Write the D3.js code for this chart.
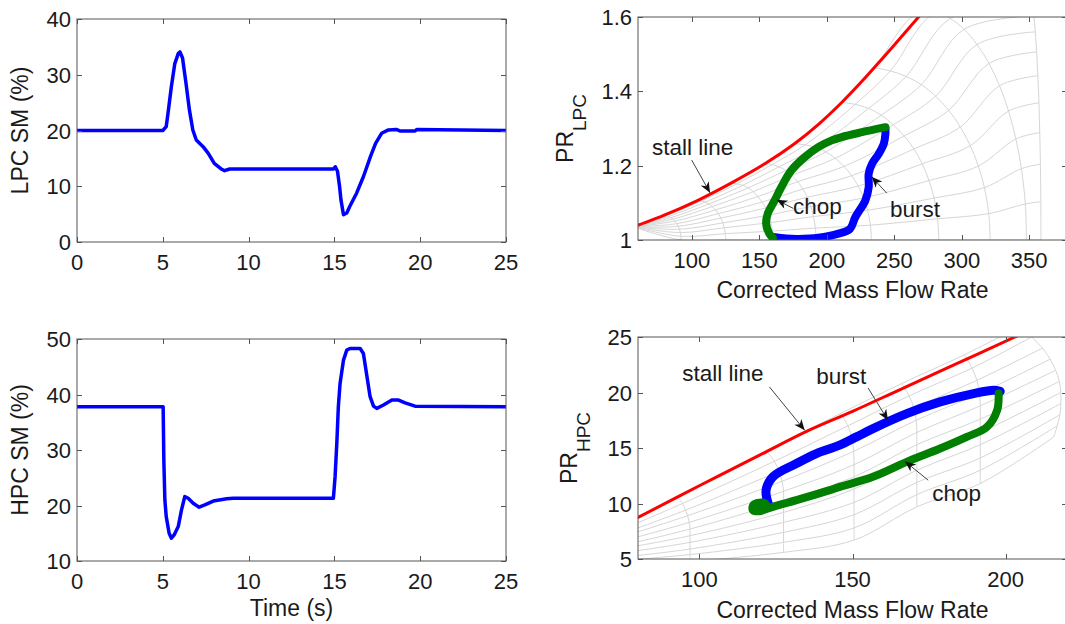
<!DOCTYPE html>
<html>
<head>
<meta charset="utf-8">
<script src="https://cdn.jsdelivr.net/npm/d3@7"></script>
<style>
  body { margin: 0; background: #fff; }
  svg { display: block; font-family: "Liberation Sans", Arial, sans-serif; }
</style>
</head>
<body>
<svg id="fig" width="1065" height="624"></svg>
<script>
// ---- time histories (surge margin, %) ----
const lpcTime = [0, 5.0, 5.2, 5.3, 5.5, 5.7, 5.9, 6.0, 6.15, 6.35, 6.55, 6.75, 6.95, 7.35, 7.65, 8.0, 8.4, 8.6, 8.9,
  14.95, 15.05, 15.18, 15.3, 15.38, 15.53, 15.72, 15.9, 16.3, 16.7, 17.1, 17.4, 17.75, 18.15, 18.6, 18.85, 19.7, 19.8, 25];
const lpcSM = [20, 20, 20.7, 23, 27.9, 32, 33.8, 34.1, 33, 28.5, 23.7, 20.1, 18.3, 17.1, 15.9, 14.1, 13.1, 12.8, 13.1,
  13.1, 13.5, 12.7, 10, 7.6, 4.9, 5.2, 6.4, 8.8, 11.8, 15.3, 17.7, 19.5, 20.1, 20.2, 19.9, 19.9, 20.2, 20];

const hpcTime = [0, 5.02, 5.06, 5.12, 5.2, 5.37, 5.5, 5.66, 5.9, 6.09, 6.28, 6.48, 6.77, 7.12, 7.45, 7.94, 8.72, 9.1,
  14.94, 14.98, 15.04, 15.14, 15.23, 15.33, 15.53, 15.72, 15.91, 16.5, 16.69, 16.9, 17.08, 17.28, 17.47, 17.86,
  18.35, 18.74, 19.12, 19.7, 25];
const hpcSM = [37.8, 37.8, 28.2, 21, 18, 15, 14.1, 14.7, 16.2, 19.2, 21.6, 21.3, 20.4, 19.7, 20.1, 20.8, 21.2, 21.3,
  21.3, 22.8, 25.2, 31.2, 37.8, 42, 46.2, 48, 48.3, 48.3, 47.4, 43.2, 39.6, 37.9, 37.5, 38.1,
  39, 39, 38.5, 37.9, 37.8];

// ---- LPC map ----
const lpcStallFlow = [55, 60, 79, 104, 129, 154, 176, 194, 211, 226, 242, 258, 272, 285];
const lpcStallPR = [1.033, 1.04, 1.066, 1.106, 1.153, 1.205, 1.259, 1.312, 1.370, 1.427, 1.492, 1.558, 1.617, 1.672];
const lpcBurstFlow = [160, 170, 178.7, 193.6, 208.6, 217.2, 221, 228.5, 231, 231, 233.5, 238.5, 242.2, 243.4, 243.4];
const lpcBurstPR = [1.008, 1.004, 1.003, 1.006, 1.017, 1.03, 1.061, 1.106, 1.142, 1.178, 1.205, 1.232, 1.259, 1.286, 1.30];
const lpcChopFlow = [243.4, 226, 211, 203.6, 193.6, 183.6, 173.6, 166.2, 161.2, 156.2, 155, 157.3, 159.9];
const lpcChopPR = [1.3035, 1.29, 1.277, 1.268, 1.25, 1.223, 1.187, 1.142, 1.106, 1.071, 1.044, 1.017, 1.006];
// speed lines, each a list of [flow, PR] nodes from the stall side to the choke side
const lpcMapHub = [57, 1.035];
const lpcSpeedLines = [
  [[79,1.066],[80.8,1.065],[82.6,1.063],[84.3,1.06],[85.9,1.056],[87.4,1.051],[88.7,1.044],[89.8,1.037],[90.7,1.029],[91.4,1.02],[91.8,1.01],[92,1.0]],
  [[104,1.106],[106.9,1.105],[109.8,1.102],[112.5,1.097],[115.1,1.09],[117.5,1.081],[119.6,1.071],[121.4,1.059],[122.9,1.046],[124,1.033],[124.7,1.017],[125,1.0]],
  [[129,1.153],[133.3,1.151],[137.6,1.147],[141.6,1.14],[145.4,1.13],[148.9,1.117],[152,1.102],[154.7,1.086],[156.9,1.067],[158.5,1.047],[159.6,1.024],[160,1.0]],
  [[154,1.205],[159.3,1.203],[164.5,1.197],[169.5,1.187],[174.1,1.174],[178.4,1.157],[182.2,1.137],[185.5,1.115],[188.2,1.09],[190.1,1.063],[191.5,1.032],[192,1.0]],
  [[176,1.259],[183.9,1.256],[191.7,1.249],[199.2,1.237],[206.2,1.22],[212.7,1.198],[218.4,1.173],[223.3,1.145],[227.2,1.113],[230.2,1.08],[232.3,1.04],[233,1.0]],
  [[211,1.370],[221,1.365],[230.9,1.354],[240.3,1.336],[249.2,1.31],[257.3,1.28],[264.5,1.245],[270.7,1.205],[275.7,1.16],[279.5,1.113],[282.1,1.057],[283,1.0]],
  [[235,1.463],[247,1.455],[258.7,1.440],[270,1.418],[280.6,1.387],[290.3,1.349],[298.9,1.304],[306.3,1.254],[312.3,1.199],[316.8,1.141],[320,1.071],[321,1.0]],
  [[270,1.62],[280.8,1.614],[291.5,1.596],[301.7,1.567],[311.3,1.526],[320.2,1.475],[328,1.415],[334.7,1.347],[340.1,1.272],[344.2,1.192],[347.1,1.097],[348,1.0]],
  [[349.7,1.66],[351,1.653],[352.2,1.634],[353.4,1.603],[354.5,1.56],[355.5,1.506],[356.4,1.442],[357.2,1.369],[357.8,1.289],[358.3,1.204],[358.6,1.103],[358.7,1.0]]
];

// ---- HPC map ----
const hpcStallFlow = [75, 80, 100, 120, 135, 150, 165, 184, 203, 210];
const hpcStallPR = [8.0, 8.74, 11.6, 14.4, 16.5, 18.3, 20.2, 22.6, 25, 25.9];
const hpcBurstFlow = [122.5, 121.8, 124, 131.7, 138.2, 145.8, 151.3, 156.7, 167.7, 178.6, 189.5, 196, 198.2];
const hpcBurstPR = [10.0, 11.2, 12.4, 13.6, 14.5, 15.25, 16.0, 16.75, 18.1, 19.15, 19.9, 20.2, 20.1];
const hpcChopFlow = [197.7, 197.2, 193.9, 187.3, 178.6, 167.7, 156.7, 145.8, 142.6, 131.7, 124, 119.5, 117.5, 117.5, 119, 121.5, 122, 119.5];
const hpcChopPR = [19.9, 18.4, 16.9, 16.0, 14.95, 13.75, 12.4, 11.5, 11.2, 10.3, 9.7, 9.3, 9.4, 9.8, 10.05, 10.0, 9.6, 9.45];
const hpcSpeedLines = [
  [[76,8.2],[76,7.8],[76,7.4],[76,7.1],[76,6.7],[76,6.3],[76,6.0],[76,5.6],[76,5.2],[76,4.9],[76,4.5]],
  [[93,10.6],[94.5,10.0],[95.5,9.4],[96.2,8.9],[96.7,8.3],[97,7.7],[97,7.1],[97,6.5],[97,5.9],[97,5.4],[97,4.8]],
  [[122,14.7],[124.5,13.8],[126,12.9],[127,12.0],[127.5,11.1],[127.5,10.2],[127.5,9.2],[127.5,8.3],[127.5,7.4],[127.5,6.5],[127.5,5.6]],
  [[146,18.1],[148.5,17.0],[149.8,15.8],[150.4,14.7],[150.5,13.5],[150.5,12.4],[150.5,11.3],[150.5,10.1],[150.5,9.0],[150.5,7.8],[150.5,6.7]],
  [[166,20.8],[168.5,19.7],[170,18.6],[170.8,17.5],[171,16.4],[171,15.3],[171,14.1],[171,13.0],[171,11.9],[171,10.8],[171,9.7]],
  [[186.5,23.4],[189,22.2],[190.6,21.1],[191.4,19.9],[191.7,18.8],[191.7,17.6],[191.7,16.4],[191.7,15.3],[191.7,14.1],[191.7,13.0],[191.7,11.8]],
  [[205,26],[208.5,25],[212,24],[214.5,23],[216.3,22],[217.5,21],[218,20],[218,19],[217.7,18],[216.8,17],[215.7,16]]
];

// ---- ticks ----
const timeTicks = [0, 5, 10, 15, 20, 25];
const lpcSMTicks = [0, 10, 20, 30, 40];
const hpcSMTicks = [10, 20, 30, 40, 50];
const lpcFlowTicks = [100, 150, 200, 250, 300, 350];
const lpcPRTicks = [1, 1.2, 1.4, 1.6];
const hpcFlowTicks = [100, 150, 200];
const hpcPRTicks = [5, 10, 15, 20, 25];

// ---- annotations (data coordinates) ----
const lpcNotes = [
  { text: 'stall line', at: [70.4, 1.229], from: [99.8, 1.215], to: [113.4, 1.127] },
  { text: 'chop', at: [174.9, 1.070], from: [175.1, 1.085], to: [162.8, 1.108] },
  { text: 'burst', at: [246.8, 1.062], from: [244.4, 1.126], to: [233.2, 1.170] }
];
const hpcNotes = [
  { text: 'stall line', at: [94.4, 21.0], from: [122.9, 20.5], to: [134.4, 16.6] },
  { text: 'burst', at: [138.2, 20.8], from: [155.1, 20.4], to: [161.6, 17.5] },
  { text: 'chop', at: [176.0, 10.2], from: [174.7, 12.1], to: [167.1, 13.8] }
];

const BLUE = '#0000ff', GREEN = '#007f00', RED = '#ff0000';
const GRID = '#d6d6d6', AXIS = '#555', TXT = '#1a1a1a';

const svg = d3.select('#fig');
const defs = svg.append('defs');
defs.append('marker')
  .attr('id', 'head')
  .attr('viewBox', '0 0 12 10')
  .attr('refX', 12).attr('refY', 5)
  .attr('markerWidth', 12).attr('markerHeight', 9)
  .attr('markerUnits', 'userSpaceOnUse')
  .attr('orient', 'auto')
  .append('path').attr('d', 'M0,0 L12,5 L0,10 L3.5,5 Z').attr('fill', '#111');

function makePanel(id, box, xDomain, yDomain) {
  const x = d3.scaleLinear().domain(xDomain).range([box.left, box.right]);
  const y = d3.scaleLinear().domain(yDomain).range([box.bottom, box.top]);
  defs.append('clipPath').attr('id', 'clip-' + id)
    .append('rect')
    .attr('x', box.left).attr('y', box.top)
    .attr('width', box.right - box.left).attr('height', box.bottom - box.top);
  const g = svg.append('g');
  const plot = g.append('g').attr('clip-path', `url(#clip-${id})`);
  return { x, y, g, plot, box };
}

// MATLAB-like box: ticks pointing inward on all four sides
function drawFrame(p, xTicks, yTicks) {
  const b = p.box, tl = 5;
  const f = p.g.append('g');
  f.append('rect')
    .attr('x', b.left).attr('y', b.top)
    .attr('width', b.right - b.left).attr('height', b.bottom - b.top)
    .attr('fill', 'none').attr('stroke', AXIS).attr('stroke-width', 1);
  xTicks.forEach(t => {
    const xx = Math.round(p.x(t)) + 0.5;
    f.append('line').attr('x1', xx).attr('x2', xx).attr('y1', b.bottom).attr('y2', b.bottom - tl).attr('stroke', AXIS);
    f.append('line').attr('x1', xx).attr('x2', xx).attr('y1', b.top).attr('y2', b.top + tl).attr('stroke', AXIS);
    f.append('text').attr('x', p.x(t)).attr('y', b.bottom + 28)
      .attr('text-anchor', 'middle').attr('font-size', 22).attr('fill', TXT).text(t);
  });
  yTicks.forEach(t => {
    const yy = Math.round(p.y(t)) + 0.5;
    f.append('line').attr('x1', b.left).attr('x2', b.left + tl).attr('y1', yy).attr('y2', yy).attr('stroke', AXIS);
    f.append('line').attr('x1', b.right).attr('x2', b.right - tl).attr('y1', yy).attr('y2', yy).attr('stroke', AXIS);
    f.append('text').attr('x', b.left - 6).attr('y', p.y(t) + 8)
      .attr('text-anchor', 'end').attr('font-size', 22).attr('fill', TXT).text(t);
  });
}

function yLabel(p, x, parts) {
  const cy = (p.box.top + p.box.bottom) / 2;
  const t = p.g.append('text')
    .attr('transform', `translate(${x},${cy}) rotate(-90)`)
    .attr('text-anchor', 'middle').attr('fill', TXT).attr('font-size', 23);
  t.append('tspan').text(parts[0]);
  if (parts[1]) t.append('tspan').attr('dy', 13).attr('font-size', 19).text(parts[1]);
}

function xLabel(p, y, label) {
  p.g.append('text')
    .attr('x', (p.box.left + p.box.right) / 2).attr('y', y)
    .attr('text-anchor', 'middle').attr('font-size', 23).attr('fill', TXT).text(label);
}

function drawSeries(p, xs, ys, color, width, curve) {
  const line = d3.line().x(d => p.x(d[0])).y(d => p.y(d[1])).curve(curve || d3.curveLinear);
  p.plot.append('path').datum(d3.zip(xs, ys))
    .attr('d', line).attr('fill', 'none').attr('stroke', color)
    .attr('stroke-width', width).attr('stroke-linejoin', 'round').attr('stroke-linecap', 'round');
}

function drawMap(p, speedLines, hub) {
  const line = d3.line().x(d => p.x(d[0])).y(d => p.y(d[1])).curve(d3.curveCatmullRom);
  const nBeta = speedLines[0].length;
  const betaLines = d3.range(nBeta).map(j => (hub ? [hub] : []).concat(speedLines.map(s => s[j])));
  const gg = p.plot.append('g').attr('fill', 'none').attr('stroke', GRID).attr('stroke-width', 1);
  gg.selectAll('path.beta').data(betaLines).join('path').attr('class', 'beta').attr('d', line);
  gg.selectAll('path.speed').data(speedLines).join('path').attr('class', 'speed').attr('d', line);
}

function drawNotes(p, notes) {
  notes.forEach(n => {
    p.g.append('line')
      .attr('x1', p.x(n.from[0])).attr('y1', p.y(n.from[1]))
      .attr('x2', p.x(n.to[0])).attr('y2', p.y(n.to[1]))
      .attr('stroke', '#444').attr('stroke-width', 1).attr('marker-end', 'url(#head)');
    p.g.append('text').attr('x', p.x(n.at[0])).attr('y', p.y(n.at[1]))
      .attr('font-size', 22.5).attr('fill', TXT).text(n.text);
  });
}

const smooth = d3.curveCatmullRom;

// ---- top left: LPC surge margin ----
const pLpcSM = makePanel('lsm', { left: 77, right: 506, top: 19, bottom: 242 }, [0, 25], [0, 40]);
drawSeries(pLpcSM, lpcTime, lpcSM, BLUE, 3.5);
drawFrame(pLpcSM, timeTicks, lpcSMTicks);
yLabel(pLpcSM, 28, ['LPC SM (%)']);

// ---- bottom left: HPC surge margin ----
const pHpcSM = makePanel('hsm', { left: 77, right: 506, top: 339, bottom: 561 }, [0, 25], [10, 50]);
drawSeries(pHpcSM, hpcTime, hpcSM, BLUE, 3.5);
drawFrame(pHpcSM, timeTicks, hpcSMTicks);
yLabel(pHpcSM, 28, ['HPC SM (%)']);
xLabel(pHpcSM, 616, 'Time (s)');

// ---- top right: LPC map ----
const pLpcMap = makePanel('lmap', { left: 638, right: 1067, top: 17, bottom: 240 }, [60, 378], [1, 1.6]);
drawMap(pLpcMap, lpcSpeedLines, lpcMapHub);
drawSeries(pLpcMap, lpcStallFlow, lpcStallPR, RED, 3, smooth);
drawSeries(pLpcMap, lpcBurstFlow, lpcBurstPR, BLUE, 8, smooth);
drawSeries(pLpcMap, lpcChopFlow, lpcChopPR, GREEN, 8, smooth);
drawFrame(pLpcMap, lpcFlowTicks, lpcPRTicks);
drawNotes(pLpcMap, lpcNotes);
yLabel(pLpcMap, 573, ['PR', 'LPC']);
xLabel(pLpcMap, 298, 'Corrected Mass Flow Rate');

// ---- bottom right: HPC map ----
const pHpcMap = makePanel('hmap', { left: 638, right: 1067, top: 337, bottom: 559 }, [80, 220], [5, 25]);
drawMap(pHpcMap, hpcSpeedLines, null);
drawSeries(pHpcMap, hpcStallFlow, hpcStallPR, RED, 3, smooth);
drawSeries(pHpcMap, hpcBurstFlow, hpcBurstPR, BLUE, 9, smooth);
drawSeries(pHpcMap, hpcChopFlow, hpcChopPR, GREEN, 8, smooth);
drawFrame(pHpcMap, hpcFlowTicks, hpcPRTicks);
drawNotes(pHpcMap, hpcNotes);
yLabel(pHpcMap, 577, ['PR', 'HPC']);
xLabel(pHpcMap, 618, 'Corrected Mass Flow Rate');
</script>
</body>
</html>
